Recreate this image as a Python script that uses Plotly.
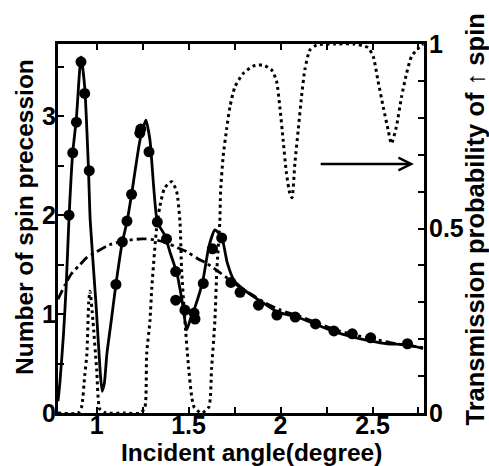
import plotly.graph_objects as go

# ---- data ----
# solid line: number of spin precession (calculated)
solid_x = [0.79, 0.80, 0.82, 0.835, 0.85, 0.87, 0.89, 0.915, 0.935, 0.955, 0.965, 0.997, 1.02, 1.03,
           1.042, 1.056, 1.08, 1.105, 1.14, 1.165, 1.19, 1.236, 1.268, 1.29, 1.33, 1.37, 1.40, 1.437,
           1.464, 1.49, 1.51, 1.535, 1.578, 1.61, 1.643, 1.68, 1.71, 1.75, 1.82, 1.90, 1.985, 2.09,
           2.2, 2.295, 2.39, 2.485, 2.58, 2.69, 2.775]
solid_y = [0.12, 0.30, 0.80, 1.30, 1.98, 2.63, 2.98, 3.60, 3.30, 2.50, 1.95, 1.09, 0.40, 0.22,
           0.30, 0.60, 0.94, 1.30, 1.73, 1.93, 2.21, 2.76, 2.96, 2.76, 1.93, 1.80, 1.62, 1.41,
           1.14, 0.84, 0.95, 1.07, 1.34, 1.68, 1.85, 1.78, 1.52, 1.33, 1.22, 1.12, 1.02, 0.97,
           0.89, 0.82, 0.77, 0.73, 0.70, 0.69, 0.65]

# dots: number of spin precession (simulation)
dot_x = [0.85, 0.87, 0.89, 0.915, 0.935, 0.96, 1.105, 1.14, 1.165, 1.19, 1.235, 1.24, 1.285, 1.33,
         1.38, 1.43, 1.43, 1.48, 1.53, 1.535, 1.58, 1.63, 1.68, 1.73, 1.78, 1.88, 1.98, 2.08,
         2.19, 2.29, 2.39, 2.49, 2.69]
dot_y = [2.00, 2.63, 2.94, 3.55, 3.23, 2.45, 1.30, 1.73, 1.94, 2.21, 2.83, 2.87, 2.64, 1.93,
         1.76, 1.43, 1.14, 1.04, 1.01, 0.95, 1.31, 1.66, 1.77, 1.32, 1.22, 1.09, 0.99, 0.97,
         0.90, 0.83, 0.80, 0.76, 0.70]

# dash-dot line
dd_x = [0.79, 0.83, 0.864, 0.91, 0.946, 1.0, 1.07, 1.15, 1.25, 1.32, 1.38, 1.44, 1.49, 1.55, 1.6,
        1.67, 1.72, 1.78, 1.85, 1.92, 2.0, 2.1, 2.2, 2.3, 2.4, 2.5, 2.6, 2.7, 2.78]
dd_y = [1.15, 1.30, 1.41, 1.50, 1.57, 1.63, 1.70, 1.74, 1.76, 1.75, 1.72, 1.67, 1.63, 1.56, 1.51,
        1.42, 1.35, 1.27, 1.19, 1.11, 1.04, 0.98, 0.91, 0.84, 0.79, 0.75, 0.71, 0.68, 0.66]

# dotted line: transmission probability of up spin (right axis)
tr_x = [0.79, 0.90, 0.918, 0.935, 0.947, 0.957, 0.964, 0.98, 1.0, 1.018, 1.05, 1.15, 1.24, 1.263,
        1.272, 1.29, 1.30, 1.326, 1.344, 1.37, 1.408, 1.435, 1.453, 1.462, 1.48, 1.498, 1.517,
        1.53, 1.57, 1.61, 1.625, 1.643, 1.654, 1.67, 1.674, 1.688, 1.707, 1.725, 1.752, 1.797,
        1.851, 1.906, 1.951, 1.978, 1.996, 2.014, 2.032, 2.05, 2.062, 2.078, 2.096, 2.114, 2.132,
        2.16, 2.196, 2.3, 2.4, 2.476, 2.504, 2.53, 2.558, 2.585, 2.603, 2.63, 2.658, 2.685,
        2.712, 2.748, 2.775]
tr_y = [0.0, 0.0, 0.016, 0.10, 0.16, 0.30, 0.33, 0.25, 0.12, 0.01, 0.0, 0.0, 0.0, 0.017,
        0.16, 0.25, 0.34, 0.50, 0.56, 0.61, 0.627, 0.60, 0.52, 0.39, 0.25, 0.135, 0.044,
        0.016, 0.0, 0.016, 0.12, 0.25, 0.39, 0.52, 0.60, 0.695, 0.77, 0.83, 0.884, 0.92,
        0.94, 0.943, 0.93, 0.90, 0.83, 0.74, 0.65, 0.596, 0.583, 0.677, 0.767, 0.857, 0.93,
        0.984, 0.997, 1.0, 1.0, 0.99, 0.966, 0.90, 0.83, 0.767, 0.73, 0.776, 0.857, 0.92,
        0.966, 0.988, 1.0]

# arrow pointing to the right axis (data coords: x, right-axis y)
arrow_x_tail = 2.21
arrow_x_head = 2.725
arrow_y = 0.675

# axes
x_range = [0.79, 2.78]
y_range = [0, 3.73]
y2_range = [0, 1]
x_tickvals = [1, 1.25, 1.5, 1.75, 2, 2.25, 2.5, 2.75]
x_ticktext = ["1", "", "1.5", "", "2", "", "2.5", ""]
y_tickvals = [0, 0.5, 1, 1.5, 2, 2.5, 3, 3.5]
y_ticktext = ["0", "", "1", "", "2", "", "3", ""]
y2_tickvals = [0, 0.1, 0.2, 0.3, 0.4, 0.5, 0.6, 0.7, 0.8, 0.9, 1.0]
y2_ticktext = ["0", "", "", "", "", "0.5", "", "", "", "", "1"]

x_title = "Incident angle(degree)"
y_title = "Number of spin precession"
y2_title = "Transmission probability of \u2191 spin"

FONT = "Liberation Sans, Arial, sans-serif"
TICKFONT = dict(family=FONT, size=25, color="black", weight="bold")

fig = go.Figure()
fig.add_trace(go.Scatter(x=tr_x, y=tr_y, mode="lines", yaxis="y2",
                         line=dict(color="black", width=3, dash="3px,3.5px", shape="spline", smoothing=0.6),
                         showlegend=False, hoverinfo="skip"))
fig.add_trace(go.Scatter(x=dd_x, y=dd_y, mode="lines",
                         line=dict(color="black", width=2.8, dash="10px,4px,3px,4px", shape="spline", smoothing=0.8),
                         showlegend=False))
fig.add_trace(go.Scatter(x=solid_x, y=solid_y, mode="lines",
                         line=dict(color="black", width=2.8, shape="spline", smoothing=0.5),
                         showlegend=False))
fig.add_trace(go.Scatter(x=dot_x, y=dot_y, mode="markers",
                         marker=dict(color="black", size=11),
                         showlegend=False))

axis_common = dict(showgrid=False, zeroline=False, showline=True, linecolor="black", linewidth=3,
                   ticks="inside", ticklen=6, tickwidth=2, tickcolor="black", tickfont=TICKFONT)

fig.update_layout(
    width=489, height=466,
    margin=dict(l=58, r=65, t=44, b=53),
    paper_bgcolor="white", plot_bgcolor="white",
    font=dict(family=FONT, color="black"),
    xaxis=dict(range=x_range, tickvals=x_tickvals, ticktext=x_ticktext, mirror="ticks",
               ticklabelstandoff=-12, **axis_common),
    yaxis=dict(range=y_range, tickvals=y_tickvals, ticktext=y_ticktext, ticklabelstandoff=-6, **axis_common),
    yaxis2=dict(range=y2_range, tickvals=y2_tickvals, ticktext=y2_ticktext, overlaying="y", side="right",
                ticklabelstandoff=-3, **axis_common),
    annotations=[
        dict(text=x_title, xref="paper", yref="paper", x=0.5287, y=-0.106, xanchor="center", yanchor="middle",
             showarrow=False, font=dict(family=FONT, size=24.5, color="black", weight="bold")),
        dict(text=y_title, xref="paper", yref="paper", x=-0.093, y=0.531, xanchor="center", yanchor="middle",
             textangle=-90, showarrow=False, font=dict(family=FONT, size=24.5, color="black", weight="bold")),
        dict(text=y2_title, xref="paper", yref="paper", x=1.14, y=0.525, xanchor="center", yanchor="middle",
             textangle=-90, showarrow=False, font=dict(family=FONT, size=25.5, color="black", weight="bold")),
        dict(text="", x=arrow_x_head, y=arrow_y, xref="x", yref="y2",
             ax=arrow_x_tail, ay=arrow_y, axref="x", ayref="y2",
             showarrow=True, arrowhead=5, arrowsize=1, arrowwidth=2.5, arrowcolor="black", standoff=0),
    ],
)

fig.write_html("out.html")
